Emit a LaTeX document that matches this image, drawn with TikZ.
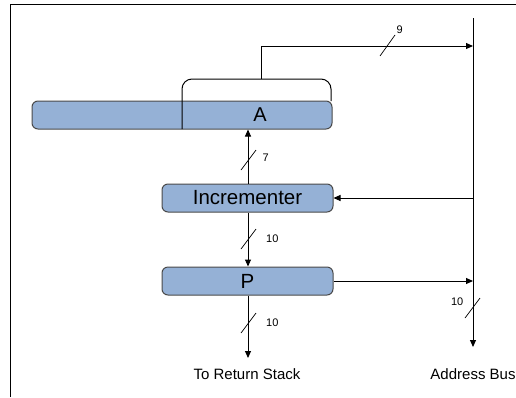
\documentclass[tikz,border=0pt]{standalone}
\usepackage{fontspec}
\setmainfont{Liberation Sans}
\usetikzlibrary{arrows.meta}
\definecolor{regblue}{HTML}{95B1D6}
\definecolor{regedge}{HTML}{4A4A4A}
\begin{document}
\begin{tikzpicture}[x=1pt,y=-1pt,
    reg/.style={draw=regedge,fill=regblue,rounded corners=6pt,line width=1pt,
      minimum height=28pt,inner sep=0pt,font=\fontsize{20.5}{20.5}\selectfont},
    wire/.style={line width=1pt,-{Triangle[length=7pt,width=6pt]}},
    slash/.style={line width=0.7pt},
    width/.style={font=\fontsize{11}{11}\selectfont},
    caption/.style={font=\fontsize{15}{15}\selectfont}]
  \useasboundingbox (0,0) rectangle (516,397);
  % frame
  \draw[line width=0.9pt] (10,397) -- (10,4) -- (516,4);
  % registers
  \node[reg,minimum width=300pt] (areg) at (182,115) {};
  \node (alabel) at (260,115) {\fontsize{20}{20}\selectfont A};
  \node[reg,minimum width=171pt] (inc) at (247.5,198) {Incrementer};
  \node[reg,minimum width=171pt] (preg) at (247.5,281) {P};
  \draw[line width=1pt] (182,129) -- (182,90)
    [rounded corners=10pt] -- (182,79) -- (331,79) -- (331,101);
  \coordinate (atap) at (261,79);
  % bus
  \coordinate (bustop) at (473,18);
  \coordinate (busbot) at (473,347);
  \coordinate (busin) at (473,198);
  \coordinate (busout) at (473,281);
  \coordinate (busaddr) at (473,46);
  \draw[wire] (bustop) -- (busbot);
  \draw[wire] (atap) -- (261,46) -- (busaddr);
  \draw[wire] (busin) -- (inc.east);
  \draw[wire] (preg.east) -- (busout);
  \draw[wire] (inc.north -| 248,0) -- (areg.south -| 248,0);
  \draw[wire] (inc.south -| 248,0) -- (preg.north -| 248,0);
  \coordinate (ret) at (248,358);
  \draw[wire] (preg.south -| 248,0) -- (ret);
  % widths
  \draw[slash] (380,56) -- (395,35) node[width,above right=-2pt] {9};
  \draw[slash] (241,170) -- (256,150) node[width,right=9pt,pos=0.6] {7};
  \draw[slash] (241,249) -- (256,229) node[width,right=14pt,pos=0.5] {10};
  \draw[slash] (241,333) -- (256,313) node[width,right=14pt,pos=0.5] {10};
  \draw[slash] (465,318) -- (480,298) node[width,left=10pt,pos=0.8] {10};
  % captions
  \node[caption] (retlabel) at (247,374) {To Return Stack};
  \node[caption] (buslabel) at (473,374) {Address Bus};
\end{tikzpicture}
\end{document}
